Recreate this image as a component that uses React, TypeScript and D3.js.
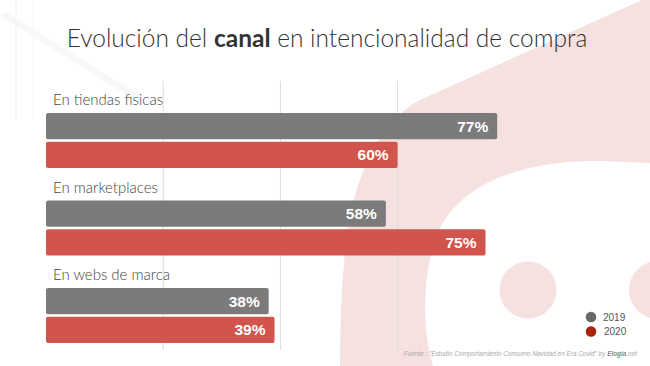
import React from 'react';
import * as d3 from 'd3';

const categories = ['En tiendas fisicas', 'En marketplaces', 'En webs de marca'];
const years = ['2019', '2020'];
const values2019 = [77, 58, 38];
const values2020 = [60, 75, 39];
const gridTicks = [20, 40, 60];

const W = 650;
const H = 366;

const colors: Record<string, string> = { '2019': '#7b7b7b', '2020': '#d1554d' };
const legendColors: Record<string, string> = { '2019': '#686868', '2020': '#a8220f' };

export default function App() {
  // x scale: 0% at the bars' left edge
  const x = d3.scaleLinear().domain([0, 100]).range([46, 632]);
  const yGroup = d3.scaleBand().domain(categories).range([113, 375.5]).padding(0);
  const ySub = d3.scaleBand().domain(years).range([0, 55]).paddingInner(0.08);

  const rows = categories.map((c, i) => ({
    cat: c,
    bars: [
      { year: '2019', value: values2019[i] },
      { year: '2020', value: values2020[i] },
    ],
  }));

  const pink = '#f5e1e0';

  return (
    <svg width={W} height={H} style={{ position: 'absolute', left: 0, top: 0, display: 'block', background: '#fff' }}>
      {/* background decoration */}
      <path d="M0 16 L6 12 L138 94 L132 98 Z" fill="#f8f8f8" />
      <line x1={16} x2={16} y1={0} y2={120} stroke="#f7f7f7" strokeWidth={2} />
      <line x1={33} x2={33} y1={0} y2={120} stroke="#f9f9f9" strokeWidth={1.5} />
      <path d="M 650 0 L 642 0 L 420 100 C 380 120, 353 180, 346 240 C 341 290, 340 330, 340 366 L 650 366 Z" fill={pink} />
      <path d="M 433 366 C 422 330, 421 270, 440 228 C 462 185, 520 160, 600 161 L 650 163 L 650 366 Z" fill="#fff" />
      <circle cx={528} cy={290} r={28.5} fill={pink} />
      <circle cx={658} cy={290} r={29} fill={pink} />

      {/* title */}
      <text x={327} y={47} textAnchor="middle" fontFamily="Lato, 'Open Sans', sans-serif" fontWeight={300} fontSize={24.5} fill="#333">
        Evolución del <tspan fontWeight={700}>canal</tspan> en intencionalidad de compra
      </text>

      {/* grid */}
      {gridTicks.map(t => (
        <line key={t} x1={x(t)} x2={x(t)} y1={81} y2={350} stroke="#dcdcdc" strokeWidth={1} />
      ))}

      {/* bars */}
      {rows.map(r => {
        const gy = yGroup(r.cat) as number;
        return (
          <g key={r.cat}>
            <text x={53} y={gy - 8} fontFamily="Lato, 'Open Sans', sans-serif" fontWeight={300} fontSize={15} fill="#444">
              {r.cat}
            </text>
            {r.bars.map(b => {
              const by = gy + (ySub(b.year) as number);
              const bh = ySub.bandwidth();
              return (
                <g key={b.year}>
                  <rect x={x(0)} y={by} width={x(b.value) - x(0)} height={bh} rx={2} fill={colors[b.year]} />
                  <text
                    x={x(b.value) - 9}
                    y={by + bh / 2 + 5.5}
                    textAnchor="end"
                    fontFamily="'Liberation Sans', Arial, sans-serif"
                    fontWeight={700}
                    fontSize={15.5}
                    fill="#fff"
                  >
                    {b.value}%
                  </text>
                </g>
              );
            })}
          </g>
        );
      })}

      {/* legend */}
      {years.map((yr, i) => (
        <g key={yr} transform={`translate(591,${317 + i * 14.5})`}>
          <circle r={5.3} fill={legendColors[yr]} />
          <text x={12 + i} y={3.5} fontFamily="'Liberation Sans', Arial, sans-serif" fontSize={10} fill="#555">
            {yr}
          </text>
        </g>
      ))}

      {/* source */}
      <text x={637} y={356} textAnchor="end" fontFamily="'Liberation Sans', Arial, sans-serif" fontStyle="italic" fontSize={6.4} fill="#aaa">
        Fuente : "Estudio Comportamiento Consumo Navidad en Era Covid" by <tspan fontWeight={700} fill="#888">Elogia</tspan>.net
      </text>
    </svg>
  );
}
